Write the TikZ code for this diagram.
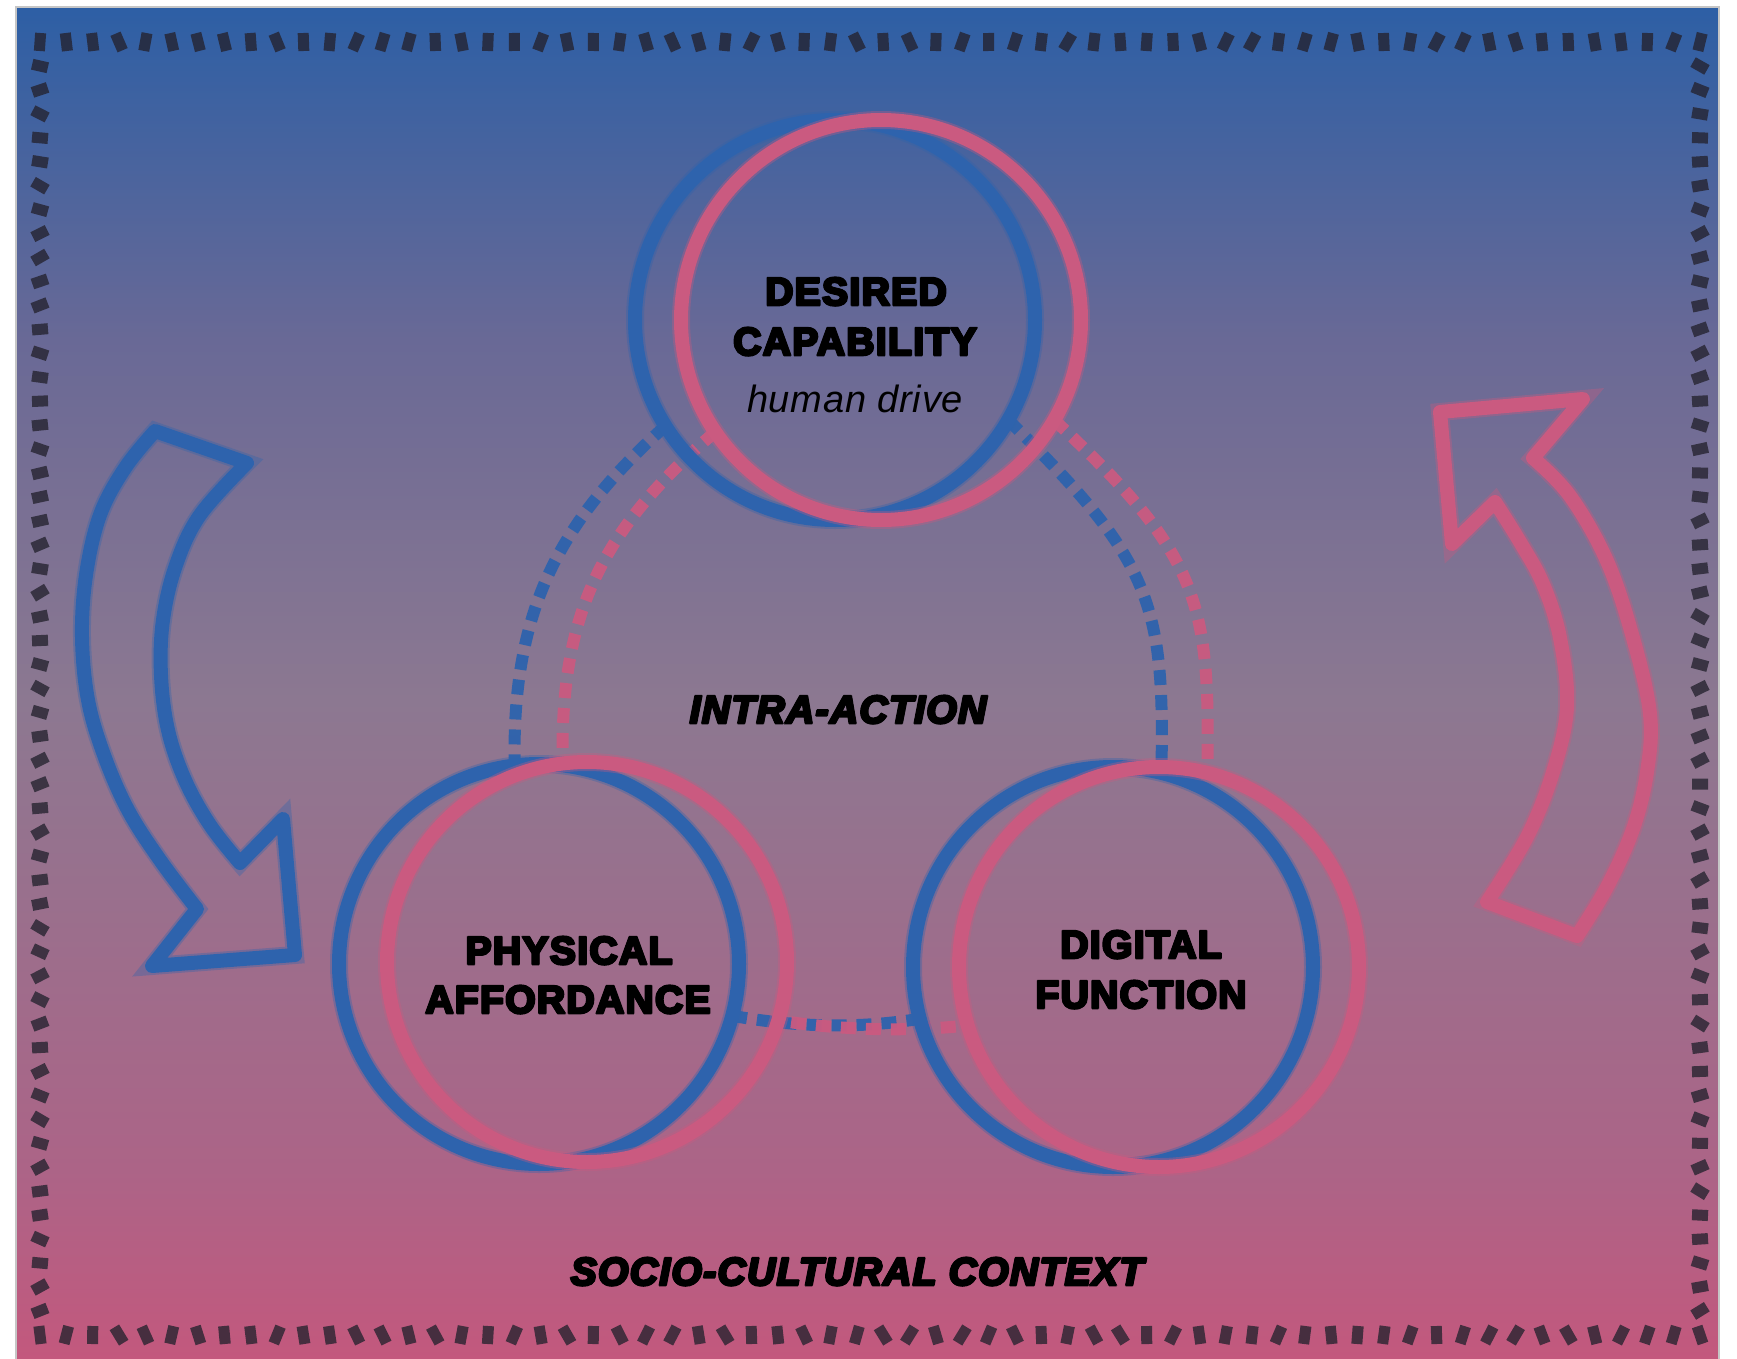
\documentclass[tikz,border=0pt]{standalone}
\usepackage{fontspec}
\setmainfont{Liberation Sans}
\newfontfamily\heavyfont[LetterSpace=3.5,FakeBold=3.5]{Liberation Sans}
\newfontfamily\lightfont[LetterSpace=2]{Liberation Sans}
\newcommand{\heavytext}[1]{\rlap{\kern1.3pt#1}\rlap{\kern0.65pt\raisebox{0.7pt}{#1}}\rlap{\kern0.65pt\raisebox{-0.7pt}{#1}}#1\kern1.3pt}
\definecolor{cblue}{RGB}{46,99,173}
\definecolor{cpink}{RGB}{202,90,128}
\definecolor{dashdark}{RGB}{36,34,46}
\definecolor{gA}{RGB}{45,95,165}
\definecolor{gB}{RGB}{105,105,150}
\definecolor{gC}{RGB}{140,120,145}
\definecolor{gD}{RGB}{172,100,135}
\definecolor{gE}{RGB}{195,88,125}
\pgfdeclareverticalshading{bgshade}{100bp}{color(0bp)=(gE); color(25bp)=(gE); color(32bp)=(gD); color(49.4bp)=(gC); color(62.7bp)=(gB); color(75bp)=(gA); color(100bp)=(gA)}
\tikzset{
  chalkB/.style={draw=cblue, line width=14pt, line join=round, preaction={draw=cblue, line width=18pt, opacity=0.35}},
  chalkP/.style={draw=cpink, line width=14pt, line join=round, preaction={draw=cpink, line width=18pt, opacity=0.35}},
  ringnode/.style={circle, inner sep=0pt, outer sep=0pt, minimum size=400pt},
  linkB/.style={draw=cblue, line width=12pt, dash pattern=on 15pt off 10pt, opacity=0.95},
  linkP/.style={draw=cpink, line width=12pt, dash pattern=on 15pt off 10pt, opacity=0.95},
  bdash/.style={fill=dashdark, opacity=0.78},
  captxt/.style={font=\heavyfont\bfseries\fontsize{39}{47}\selectfont, text=black, inner sep=0pt, anchor=base},
  capittxt/.style={font=\heavyfont\bfseries\itshape\fontsize{39}{47}\selectfont, text=black, inner sep=0pt, anchor=base},
  subtxt/.style={font=\lightfont\itshape\fontsize{38}{46}\selectfont, text=black, inner sep=0pt, anchor=base}
}
\begin{document}
\begin{tikzpicture}[x=1pt, y=-1pt]
\useasboundingbox (0,0) rectangle (1737,1359);
\fill[white] (0,0) rectangle (1737,1359);
\shade[shading=bgshade] (16,7) rectangle (1719,1359);
\draw[gray!45, line width=1.5pt] (16,1359) -- (16,7) -- (1719,7) -- (1719,1359);
% dashed frame
\pgfmathsetseed{7}
\foreach \i in {0,...,63}{
  \pgfmathsetmacro{\xx}{40+\i*26.35}
  \pgfmathsetmacro{\ra}{rand*32}
  \pgfmathsetmacro{\rb}{rand*32}
  \fill[bdash, rotate around={\ra:(\xx,42)}] (\xx-5.5,33) rectangle (\xx+5.5,51);
  \fill[bdash, rotate around={\rb:(\xx,1335)}] (\xx-5.5,1326) rectangle (\xx+5.5,1344);
}
\foreach \i in {0,...,52}{
  \pgfmathsetmacro{\yy}{66+\i*23.94}
  \pgfmathsetmacro{\ra}{rand*32}
  \pgfmathsetmacro{\rb}{rand*32}
  \fill[bdash, rotate around={\ra:(40,\yy)}] (32,\yy-5.5) rectangle (48,\yy+5.5);
  \fill[bdash, rotate around={\rb:(1700,\yy)}] (1692,\yy-5.5) rectangle (1708,\yy+5.5);
}
% rings (nodes)
\node[ringnode] (dcB) at (835,320) {};
\node[ringnode] (dcP) at (881,320) {};
\node[ringnode] (paB) at (539,964) {};
\node[ringnode] (paP) at (587,962) {};
\node[ringnode] (dfB) at (1113,967) {};
\node[ringnode] (dfP) at (1159,967) {};
% dashed connectors
\draw[linkB] (dcB.212) .. controls (554,526) and (512,616) .. (paB.97);
\draw[linkP] (dcP.214) .. controls (601,530) and (560,614) .. (paP.97);
\draw[linkB] (dcB.330) .. controls (1150,560) and (1165,600) .. (dfB.76);
\draw[linkP] (dcP.330) .. controls (1200,556) and (1210,600) .. (dfP.76);
\draw[linkB] (paB.345) .. controls (795,1027) and (857,1029) .. (dfB.195);
\draw[linkP, dash phase=12pt] (paP.343) .. controls (841,1030) and (905,1032) .. (dfP.197);
% ring strokes
\foreach \n in {dcB,paB,dfB}{\draw[chalkB] (\n) circle[radius=200pt];}
\foreach \n in {dcP,paP,dfP}{\draw[chalkP] (\n) circle[radius=200pt];}
% arrows
\draw[chalkB] (155,431) -- plot[smooth, tension=0.6] coordinates {(247,463) (200,515) (176,565) (163,620) (161,675) (168,730) (185,780) (210,825) (240,863)} -- (283,819) -- (295,955) -- (152,966) -- plot[smooth, tension=0.6] coordinates {(197,909) (160,860) (128,810) (104,755) (88,700) (82,637) (86,575) (100,515) (125,468) (155,431)} -- cycle;
\draw[chalkP] (1440,412) -- (1583,399) -- plot[smooth, tension=0.6] coordinates {(1533,458) (1570,496) (1607,561) (1633,638) (1650,714) (1647,772) (1633,829) (1607,887) (1577,936)} -- (1487,902) -- plot[smooth, tension=0.6] coordinates {(1487,902) (1527,837) (1553,772) (1567,707) (1560,638) (1543,584) (1520,542) (1495,502)} -- (1452,544) -- cycle;
% texts
\node[captxt] (t1) at (856,305) {\heavytext{DESIRED}};
\node[captxt] (t2) at (855,355) {\heavytext{CAPABILITY}};
\node[subtxt] (t3) at (855,412) {human drive};
\node[captxt] (t4) at (569,964) {\heavytext{PHYSICAL}};
\node[captxt] (t5) at (568,1013) {\heavytext{AFFORDANCE}};
\node[captxt] (t6) at (1141,958) {\heavytext{DIGITAL}};
\node[captxt] (t7) at (1141,1008) {\heavytext{FUNCTION}};
\node[capittxt] (t8) at (838,723) {\heavytext{INTRA-ACTION}};
\node[capittxt] (t9) at (857,1285) {\heavytext{SOCIO-CULTURAL CONTEXT}};
\end{tikzpicture}
\end{document}
